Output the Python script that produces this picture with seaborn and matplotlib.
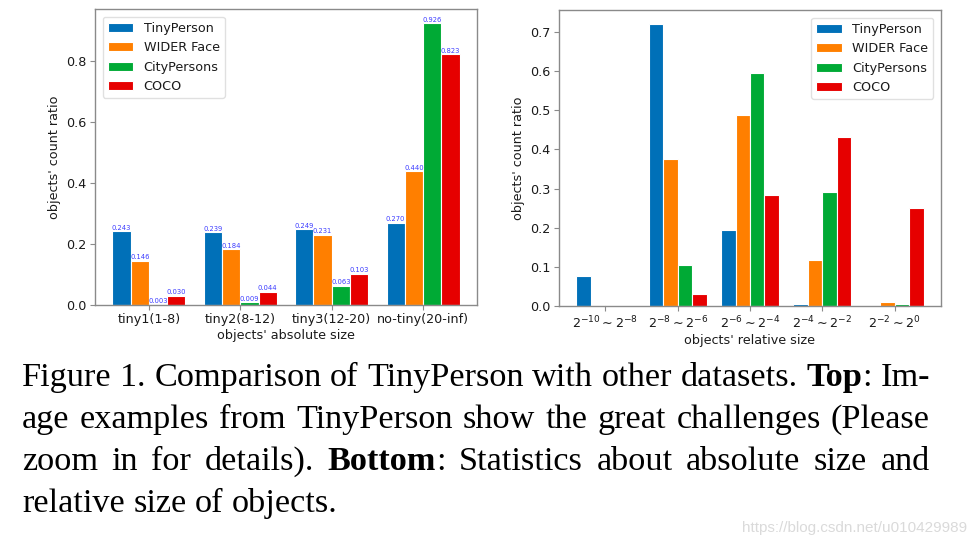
import matplotlib
matplotlib.use("Agg")
import matplotlib.pyplot as plt
import seaborn as sns
import pandas as pd

# ---------------- data ----------------
datasets = ["TinyPerson", "WIDER Face", "CityPersons", "COCO"]
colors = ["#0070b8", "#ff7f00", "#00aa35", "#e60000"]

abs_sizes = ["tiny1(1-8)", "tiny2(8-12)", "tiny3(12-20)", "no-tiny(20-inf)"]
abs_tinyperson = [0.243, 0.239, 0.249, 0.270]
abs_widerface = [0.146, 0.184, 0.231, 0.440]
abs_citypersons = [0.003, 0.009, 0.063, 0.926]
abs_coco = [0.030, 0.044, 0.103, 0.823]

rel_sizes = [r"$2^{-10}\sim2^{-8}$", r"$2^{-8}\sim2^{-6}$", r"$2^{-6}\sim2^{-4}$",
             r"$2^{-4}\sim2^{-2}$", r"$2^{-2}\sim2^{0}$"]
rel_tinyperson = [0.077, 0.720, 0.194, 0.005, 0.0]
rel_widerface = [0.003, 0.375, 0.489, 0.117, 0.011]
rel_citypersons = [0.0, 0.105, 0.594, 0.291, 0.006]
rel_coco = [0.0, 0.030, 0.284, 0.431, 0.251]

caption_lines = [
    [[("Figure", False)], [("1.", False)], [("Comparison", False)], [("of", False)],
     [("TinyPerson", False)], [("with", False)], [("other", False)], [("datasets.", False)],
     [("Top", True), (":", False)], [("Im-", False)]],
    [[(w, False)] for w in "age examples from TinyPerson show the great challenges (Please".split()],
    [[("zoom", False)], [("in", False)], [("for", False)], [("details).", False)],
     [("Bottom", True), (":", False)], [("Statistics", False)], [("about", False)],
     [("absolute", False)], [("size", False)], [("and", False)]],
    [[(w, False)] for w in "relative size of objects.".split()],
]
watermark = "https://blog.csdn.net/u010429989"


def long_df(sizes, series):
    rows = []
    for name, vals in zip(datasets, series):
        for s, v in zip(sizes, vals):
            rows.append({"size": s, "dataset": name, "ratio": v})
    return pd.DataFrame(rows)


df_abs = long_df(abs_sizes, [abs_tinyperson, abs_widerface, abs_citypersons, abs_coco])
df_rel = long_df(rel_sizes, [rel_tinyperson, rel_widerface, rel_citypersons, rel_coco])

# ---------------- style ----------------
sns.set_style("white")
plt.rcParams["font.family"] = ["DejaVu Sans"]
plt.rcParams["mathtext.fontset"] = "dejavusans"

W, H = 977, 545
fig = plt.figure(figsize=(W / 100, H / 100), dpi=100)
ax1 = fig.add_axes([95 / W, 1 - 305 / H, (477 - 95) / W, (305 - 9) / H])
ax2 = fig.add_axes([559 / W, 1 - 306 / H, (941 - 559) / W, (306 - 10) / H])

FS = 9.2
TXT = "#1a1a1a"
SPINE = "#8a8a8a"


def draw(ax, df, order, xlabel, legend_loc, values):
    sns.barplot(data=df, x="size", y="ratio", hue="dataset", order=order,
                hue_order=datasets, palette=colors, saturation=1, width=0.8,
                edgecolor="white", linewidth=0.8, errorbar=None, ax=ax)
    n = len(order)
    m = 0.05 * (n - 1 + 0.8)
    ax.set_xlim(-0.4 - m, n - 1 + 0.4 + m)
    ax.set_ylim(0, 1.05 * df["ratio"].max())
    ax.set_xlabel(xlabel, fontsize=FS, color=TXT, labelpad=2)
    ax.set_ylabel("objects' count ratio", fontsize=FS, color=TXT, labelpad=4)
    ax.tick_params(axis="both", labelsize=FS, labelcolor=TXT, color=SPINE,
                   length=3.5, width=0.8, bottom=True, left=True, pad=2.5)
    for s in ax.spines.values():
        s.set_visible(True)
        s.set_color(SPINE)
        s.set_linewidth(1.0)
    old = ax.get_legend()
    handles = old.legend_handles
    labels = [t.get_text() for t in old.get_texts()]
    ax.legend(handles, labels, loc=legend_loc, fontsize=FS, frameon=True,
              fancybox=True, framealpha=0.8, edgecolor="0.85", labelcolor=TXT,
              borderaxespad=0.6)
    if values:
        for cont in ax.containers:
            ax.bar_label(cont, fmt="%.3f", fontsize=4.9, color="#3c3cff", padding=0.3)


draw(ax1, df_abs, abs_sizes, "objects' absolute size", "upper left", True)
ax1.set_yticks([0.0, 0.2, 0.4, 0.6, 0.8])
draw(ax2, df_rel, rel_sizes, "objects' relative size", "upper right", False)
ax2.set_yticks([0.0, 0.1, 0.2, 0.3, 0.4, 0.5, 0.6, 0.7])

# ---------------- caption ----------------
CFS = 24.7
CFAM = ["Liberation Serif"]
fig.canvas.draw()
renderer = fig.canvas.get_renderer()


def seg_width(txt, bold):
    t = fig.text(0, 0, txt, fontfamily=CFAM, fontsize=CFS,
                 fontweight="bold" if bold else "normal")
    w = t.get_window_extent(renderer).width
    t.remove()
    return w


x_left, x_right = 22, 930
baselines = [386, 428, 470, 512]
space = CFS * 100 / 72 * 0.25
for li, (words, base) in enumerate(zip(caption_lines, baselines)):
    widths = [[seg_width(t, b) for t, b in word] for word in words]
    totals = [sum(w) for w in widths]
    justify = li < len(caption_lines) - 1
    if justify:
        gap = (x_right - x_left - sum(totals)) / (len(words) - 1)
    else:
        gap = space
    x = x_left
    for word, ws in zip(words, widths):
        for (t, b), w in zip(word, ws):
            fig.text(x / W, 1 - base / H, t, fontfamily=CFAM, fontsize=CFS,
                     fontweight="bold" if b else "normal", color="black",
                     ha="left", va="baseline")
            x += w
        x += gap

fig.text(967 / W, 1 - 532 / H, watermark, fontfamily=["Liberation Sans"], fontsize=11,
         color="#dadada", ha="right", va="baseline")

fig.savefig("out.png", dpi=100)
